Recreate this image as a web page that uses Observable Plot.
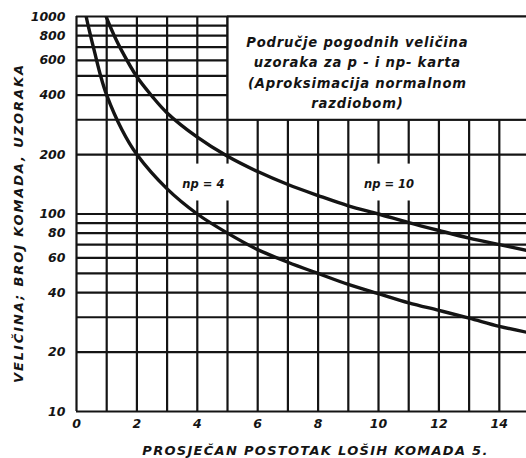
<!DOCTYPE html>
<html><head><meta charset="utf-8">
<script src="https://cdn.jsdelivr.net/npm/d3@7"></script>
<script src="https://cdn.jsdelivr.net/npm/@observablehq/plot@0.6"></script>
<style>body{margin:0;background:#fff}</style>
</head><body><div id="chart"></div>
<script>
// np = 4 curve
const p4 = [0.32, 0.4, 0.5, 0.6, 0.8, 1, 1.5, 2, 3, 4, 5, 6, 7, 8, 9, 10, 11, 12, 13, 14, 14.9];
const n4 = [1000, 880, 760, 660, 500, 400, 268, 200, 134, 100, 80, 66, 57, 50, 44, 39.5, 35.5, 32.5, 29.7, 27, 25.2];
// np = 10 curve
const p10 = [0.98, 1.1, 1.25, 1.5, 2, 2.5, 3, 4, 5, 6, 7, 8, 9, 10, 11, 12, 13, 14, 14.9];
const n10 = [1000, 900, 800, 670, 495, 395, 325, 245, 196, 164, 141, 124, 110, 100, 90.5, 82.5, 75.5, 70, 65.5];

const xTicks = [0, 2, 4, 6, 8, 10, 12, 14];
const yTicks = [10, 20, 40, 60, 80, 100, 200, 400, 600, 800, 1000];
const gridX = [0, 1, 2, 3, 4, 5, 6, 7, 8, 9, 10, 11, 12, 13, 14];
const gridY = [10, 20, 30, 40, 50, 60, 70, 80, 90, 100, 200, 300, 400, 500, 600, 700, 800, 900, 1000];

const curveLabels = ["np = 4", "np = 10"];
const curveLabelX = [4.2, 10.35];
const curveLabelY = [142, 142];

const titleLines = ["Područje pogodnih veličina", "uzoraka za p - i np- karta", "(Aproksimacija normalnom", "razdiobom)"];
const xLabel = "PROSJEČAN POSTOTAK LOŠIH KOMADA 5.";
const yLabel = "VELIČINA; BROJ KOMADA, UZORAKA";

const ink = "#141414";
const xMax = 14.9;

const curves = [
  ...p4.map((p, i) => ({p, n: n4[i], s: "np4"})),
  ...p10.map((p, i) => ({p, n: n10[i], s: "np10"}))
];
const labels = curveLabels.map((t, i) => ({t, x: curveLabelX[i], y: curveLabelY[i]}));

const chart = Plot.plot({
  width: 526, height: 458,
  marginTop: 16, marginBottom: 47, marginLeft: 76, marginRight: 0,
  x: {domain: [0, xMax], axis: null},
  y: {type: "log", domain: [10, 1000], axis: null},
  style: {fontFamily: "DejaVu Sans", fontStyle: "italic", fontWeight: "bold", fontSize: "12px", color: ink, background: "#fff"},
  marks: [
    Plot.ruleX(gridX, {x: d => d, y1: 10, y2: 1000, stroke: ink, strokeWidth: 2.2}),
    Plot.ruleY(gridY, {y: d => d, x1: 0, x2: xMax, stroke: ink, strokeWidth: 2.2}),
    // title box
    Plot.rect([0], {x1: 5, x2: xMax, y1: 300, y2: 1000, fill: "white"}),
    Plot.ruleX([5], {x: d => d, y1: 300, y2: 1000, stroke: ink, strokeWidth: 2.2}),
    Plot.ruleY([300, 1000], {y: d => d, x1: 5, x2: xMax, stroke: ink, strokeWidth: 2.2}),
    // label backgrounds
    Plot.rect(labels, {x1: d => d.x - 0.95, x2: d => d.x + 0.95, y1: d => d.y / 1.22, y2: d => d.y * 1.26, fill: "white"}),
    Plot.line(curves, {x: "p", y: "n", z: "s", curve: "catmull-rom", stroke: ink, strokeWidth: 3.4, clip: true}),
    Plot.text(labels, {x: "x", y: "y", text: "t", fontSize: 11.5}),
    Plot.text([titleLines.join("\n")], {x: 9.3, y: 530, text: d => d, lineHeight: 1.55, fontSize: 13.2}),
    // tick labels
    Plot.text(xTicks, {x: d => d, frameAnchor: "bottom", lineAnchor: "top", dy: 8, text: d => String(d), fontSize: 12.5}),
    Plot.text(yTicks, {y: d => d, frameAnchor: "left", textAnchor: "end", dx: -11, text: d => String(d), fontSize: 12.5}),
    // axis titles
    Plot.text([xLabel], {frameAnchor: "bottom", textAnchor: "middle", lineAnchor: "bottom", text: d => d, dx: 14, dy: 43, fontSize: 13}),
    Plot.text([yLabel], {frameAnchor: "left", textAnchor: "middle", text: d => d, dx: -58, dy: 9, rotate: -90, fontSize: 13})
  ]
});
document.getElementById("chart").appendChild(chart);
d3.select(chart).selectAll("text").filter(function() {
  return this.textContent === xLabel;
}).attr("letter-spacing", "1.3px");
d3.select(chart).selectAll("text").filter(function() {
  return this.textContent === yLabel;
}).attr("letter-spacing", "1.9px");
d3.select(chart).selectAll("text").filter(function() {
  return titleLines.some(l => this.textContent.includes(l));
}).attr("letter-spacing", "0.8px");
</script>
</body></html>
